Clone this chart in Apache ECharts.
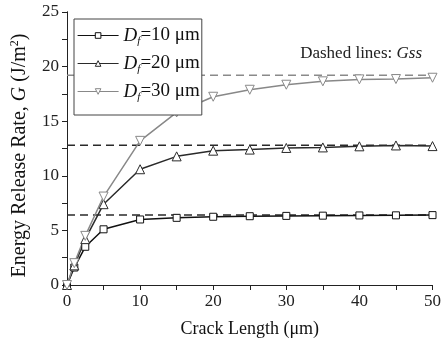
<!DOCTYPE html>
<html><head><meta charset="utf-8">
<script src="https://cdn.jsdelivr.net/npm/echarts@6/dist/echarts.min.js"></script>
<style>html,body{margin:0;padding:0;background:#fff}#c{width:444px;height:345px}</style>
</head><body><div id="c"></div>
<script>
const crackLength = [0, 1, 2.5, 5, 10, 15, 20, 25, 30, 35, 40, 45, 50];
const g10 = [0, 1.6, 3.5, 5.1, 6.0, 6.15, 6.25, 6.3, 6.33, 6.35, 6.37, 6.38, 6.4];
const g20 = [0, 1.8, 4.2, 7.4, 10.6, 11.78, 12.3, 12.4, 12.55, 12.6, 12.7, 12.78, 12.72];
const g30 = [0, 2.0, 4.5, 8.1, 13.2, 15.8, 17.24, 17.88, 18.34, 18.65, 18.83, 18.86, 18.98];
const gss = [6.4, 12.8, 19.2];
const legendNames = ['Df=10 μm', 'Df=20 μm', 'Df=30 μm'];
const xTicks = [0, 10, 20, 30, 40, 50];
const yTicks = [0, 5, 10, 15, 20, 25];

const serif = 'Liberation Serif';
const colors = ['#111111', '#2a2a2a', '#888888'];
const gssColors = ['#2a2a2a', '#2a2a2a', '#8a8a8a'];
const downTri = 'path://M0,0 L10,0 L5,9 Z';
const symbols = ['rect', 'triangle', downTri];
const symbolSizes = [7, 9, 9];
const seriesData = [g10, g20, g30];

const series = [];
gss.forEach((v, i) => {
  series.push({
    type: 'line', name: 'gss' + i, data: [[0, v], [50, v]], symbol: 'none',
    lineStyle: { color: gssColors[i], width: 1.5, type: [8, 5] }, z: 1, silent: true
  });
});
seriesData.forEach((d, i) => {
  series.push({
    type: 'line', name: legendNames[i],
    data: crackLength.map((x, j) => [x, d[j]]),
    symbol: symbols[i], symbolSize: symbolSizes[i],
    itemStyle: { color: '#fff', borderColor: colors[i], borderWidth: 1 },
    lineStyle: { color: colors[i], width: 1.5 }, z: 3
  });
});

const axisCommon = {
  type: 'value', min: 0,
  axisLine: { show: true, lineStyle: { color: '#222', width: 1 } },
  splitLine: { show: false },
};

const chart = echarts.init(document.getElementById('c'));
chart.setOption({
  animation: false,
  grid: { left: 67, right: 8, top: 12, bottom: 60 },
  legend: {
    data: legendNames, orient: 'vertical', left: 74, top: 19,
    itemWidth: 41, itemHeight: 7, itemGap: 7,
    padding: [7, 2, 12, 3],
    borderColor: '#444', borderWidth: 1, backgroundColor: '#fff',
    itemStyle: { borderWidth: 1 },
    lineStyle: { width: 1.2 },
    formatter: n => '{i|D}{sub|f}{n|' + n.slice(2) + '}',
    textStyle: {
      fontFamily: serif, fontSize: 19, color: '#111',
      rich: {
        i: { fontStyle: 'italic', fontFamily: serif, fontSize: 19, color: '#111', lineHeight: 22 },
        n: { fontFamily: serif, fontSize: 19, color: '#111', lineHeight: 22 },
        sub: { fontStyle: 'italic', fontFamily: serif, fontSize: 11, color: '#111', padding: [12, 0, 0, 0] }
      }
    }
  },
  xAxis: [
    Object.assign({}, axisCommon, {
      max: 50, interval: 10, position: 'bottom',
      axisTick: { show: true, inside: false, length: 5, lineStyle: { color: '#222' } },
      minorTick: { show: true, splitNumber: 2, length: 5, lineStyle: { color: '#222' } },
      axisLabel: { fontFamily: serif, fontSize: 17, color: '#222', margin: 8,
        formatter: v => xTicks.includes(v) ? String(v) : '' },
      name: 'Crack Length (μm)', nameLocation: 'middle', nameGap: 35,
      nameTextStyle: { fontFamily: serif, fontSize: 18, color: '#111' }
    }),
    Object.assign({}, axisCommon, {
      max: 50, interval: 10, position: 'top',
      axisTick: { show: true, inside: true, length: 5, lineStyle: { color: '#222' } },
      minorTick: { show: true, splitNumber: 2, length: 5, lineStyle: { color: '#222' } },
      axisLabel: { show: false }
    })
  ],
  yAxis: [
    Object.assign({}, axisCommon, {
      max: 25, interval: 5, position: 'left',
      axisTick: { show: true, inside: false, length: 5, lineStyle: { color: '#222' } },
      minorTick: { show: true, splitNumber: 2, length: 5, lineStyle: { color: '#222' } },
      axisLabel: { fontFamily: serif, fontSize: 17, color: '#222', margin: 8,
        formatter: v => yTicks.includes(v) ? String(v) : '' },
      name: 'Energy Release Rate, {i|G} (J/m{sup|2})', nameLocation: 'middle', nameGap: 36,
      nameTextStyle: { fontFamily: serif, fontSize: 20, color: '#111', padding: [0, 14, 0, 0],
        rich: {
          i: { fontStyle: 'italic', fontFamily: serif, fontSize: 20, color: '#111' },
          sup: { fontFamily: serif, fontSize: 12, color: '#111', padding: [0, 0, 10, 0] }
        } }
    }),
    Object.assign({}, axisCommon, {
      max: 25, interval: 5, position: 'right',
      axisTick: { show: true, inside: true, length: 5, lineStyle: { color: '#222' } },
      minorTick: { show: true, splitNumber: 2, length: 5, lineStyle: { color: '#222' } },
      axisLabel: { show: false }
    })
  ],
  graphic: [{
    type: 'text', right: 22, top: 45,
    style: {
      text: 'Dashed lines: {i|Gss}', fontFamily: serif, fontSize: 17, fill: '#222',
      rich: { i: { fontStyle: 'italic', fontFamily: serif, fontSize: 17, fill: '#222' } }
    }
  }],
  series: series
});
</script></body></html>
